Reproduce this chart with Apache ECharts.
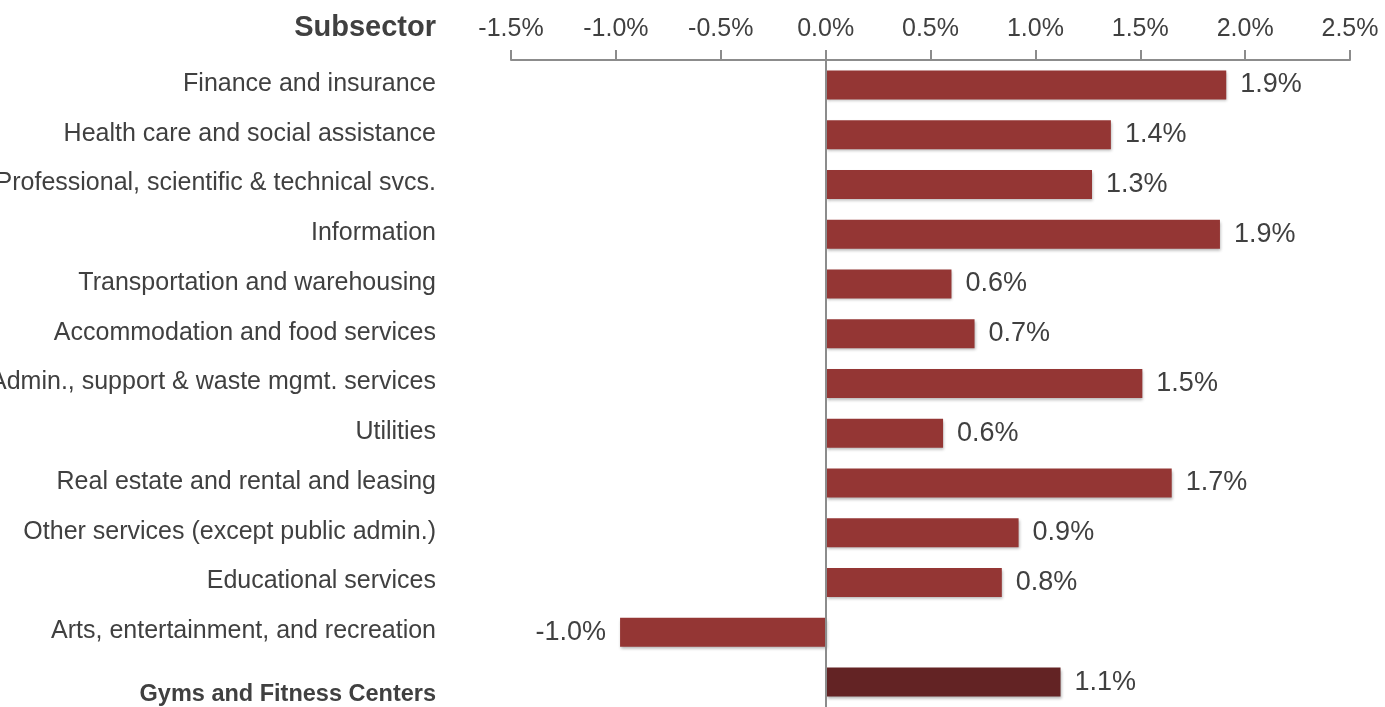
<!DOCTYPE html>
<html lang="en">
<head>
    <meta charset="UTF-8">
    <title>Subsector</title>
    <script src="https://cdn.jsdelivr.net/npm/echarts@6/dist/echarts.min.js"></script>
    <style>
        html, body {margin: 0; padding: 0; background: #fff;}
    </style>
</head>
<body>
<div id="chart" style="width: 1385px;height:707px;"></div>
<script>
    var subsectors = [
        'Finance and insurance',
        'Health care and social assistance',
        'Professional, scientific & technical svcs.',
        'Information',
        'Transportation and warehousing',
        'Accommodation and food services',
        'Admin., support & waste mgmt. services',
        'Utilities',
        'Real estate and rental and leasing',
        'Other services (except public admin.)',
        'Educational services',
        'Arts, entertainment, and recreation',
        'Gyms and Fitness Centers'
    ];
    // growth, percent
    var growth = [1.91, 1.36, 1.27, 1.88, 0.60, 0.71, 1.51, 0.56, 1.65, 0.92, 0.84, -0.98, 1.12];
    var shownLabels = ['1.9%', '1.4%', '1.3%', '1.9%', '0.6%', '0.7%', '1.5%', '0.6%', '1.7%', '0.9%', '0.8%', '-1.0%', '1.1%'];
    var highlight = 'Gyms and Fitness Centers';

    var myChart = echarts.init(document.getElementById('chart'));

    var barData = [];
    for (var i = 0; i < growth.length; i++) {
        barData.push({
            value: growth[i],
            itemStyle: {color: subsectors[i] === highlight ? '#632324' : '#943634'},
            label: {position: growth[i] < 0 ? 'left' : 'right'}
        });
    }

    myChart.setOption({
        animation: false,
        title: {
            text: 'Subsector',
            right: 944,
            top: 8,
            textStyle: {
                fontFamily: 'Liberation Sans',
                fontSize: 29,
                fontWeight: 'bold',
                color: '#404040'
            }
        },
        grid: {
            left: 511,
            right: 35,
            top: 60,
            bottom: 0,
            containLabel: false,
            outerBoundsMode: 'none'
        },
        xAxis: {
            type: 'value',
            position: 'top',
            min: -1.5,
            max: 2.5,
            interval: 0.5,
            axisLine: {show: true, lineStyle: {color: '#8c8c8c', width: 2}},
            axisTick: {show: true, length: 10, lineStyle: {color: '#8c8c8c', width: 2}},
            splitLine: {show: false},
            axisLabel: {
                margin: 18,
                fontFamily: 'Liberation Sans',
                fontSize: 25,
                color: '#404040',
                formatter: function (v) {
                    return v.toFixed(1) + '%';
                }
            }
        },
        yAxis: {
            type: 'category',
            inverse: true,
            data: subsectors,
            axisLine: {show: false},
            axisTick: {show: false},
            axisLabel: {
                margin: 75,
                fontFamily: 'Liberation Sans',
                fontSize: 25,
                color: '#404040',
                padding: [0, 0, 2, 0],
                formatter: function (v) {
                    if (v === highlight) {
                        return '{b|' + v + '}';
                    }
                    return v;
                },
                rich: {
                    b: {
                        fontFamily: 'Liberation Sans',
                        fontSize: 23.5,
                        fontWeight: 'bold',
                        color: '#404040',
                        padding: [26, 0, 0, 0]
                    }
                }
            }
        },
        series: [{
            type: 'bar',
            data: barData,
            barWidth: 29,
            itemStyle: {
                shadowColor: 'rgba(0,0,0,0.3)',
                shadowBlur: 3,
                shadowOffsetX: 1,
                shadowOffsetY: 2
            },
            label: {
                show: true,
                position: 'right',
                distance: 14,
                fontFamily: 'Liberation Sans',
                fontSize: 27,
                color: '#404040',
                formatter: function (p) {
                    return shownLabels[p.dataIndex];
                }
            },
            markLine: {
                silent: true,
                symbol: 'none',
                label: {show: false},
                lineStyle: {color: '#8c8c8c', width: 2, type: 'solid'},
                data: [{xAxis: 0}]
            }
        }]
    });
</script>
</body>
</html>
